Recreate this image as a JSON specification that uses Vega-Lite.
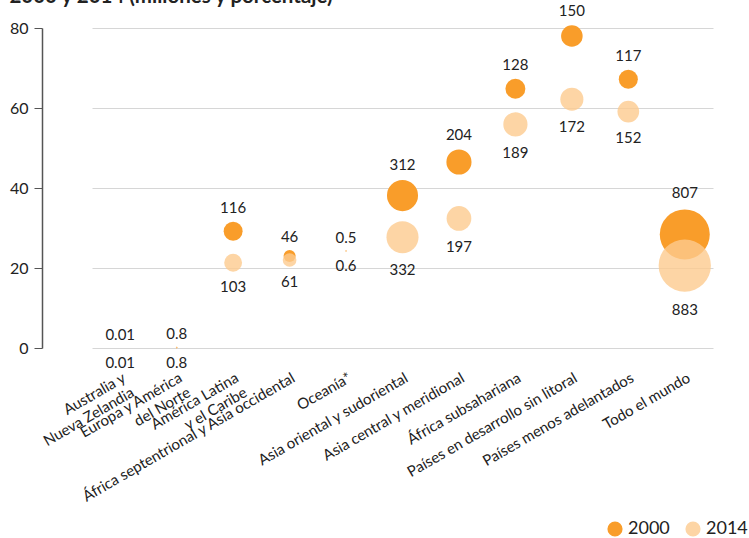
{
  "$schema": "https://vega.github.io/schema/vega-lite/v6.json",
  "width": 703,
  "height": 320,
  "autosize": {"type": "none"},
  "padding": {"left": 42, "top": 28, "right": 4, "bottom": 190},
  "background": "white",
  "config": {"view": {"stroke": null}, "font": "Lato"},
  "title": {"text": "2000 y 2014 (millones y porcentaje)", "anchor": "start", "frame": "bounds", "fontSize": 20.5, "font": "Lato", "fontWeight": "bold", "color": "#222222", "baseline": "alphabetic", "offset": 0, "dy": 19},
  "data": {"values": [
    {"region": "Australia y\nNueva Zelandia", "year": "2000", "pct": 0.0, "pop": 0.01},
    {"region": "Europa y América\ndel Norte", "year": "2000", "pct": 0.1, "pop": 0.8},
    {"region": "América Latina\ny el Caribe", "year": "2000", "pct": 29.2, "pop": 116},
    {"region": "África septentrional y Asia occidental", "year": "2000", "pct": 23.0, "pop": 46},
    {"region": "Oceanía*", "year": "2000", "pct": 24.3, "pop": 0.5},
    {"region": "Asia oriental y sudoriental", "year": "2000", "pct": 38.1, "pop": 312},
    {"region": "Asia central y meridional", "year": "2000", "pct": 46.5, "pop": 204},
    {"region": "África subsahariana", "year": "2000", "pct": 64.8, "pop": 128},
    {"region": "Países en desarrollo sin litoral", "year": "2000", "pct": 78.0, "pop": 150},
    {"region": "Países menos adelantados", "year": "2000", "pct": 67.2, "pop": 117},
    {"region": "Todo el mundo", "year": "2000", "pct": 28.4, "pop": 807},
    {"region": "Australia y\nNueva Zelandia", "year": "2014", "pct": 0.0, "pop": 0.01},
    {"region": "Europa y América\ndel Norte", "year": "2014", "pct": 0.1, "pop": 0.8},
    {"region": "América Latina\ny el Caribe", "year": "2014", "pct": 21.3, "pop": 103},
    {"region": "África septentrional y Asia occidental", "year": "2014", "pct": 22.0, "pop": 61},
    {"region": "Oceanía*", "year": "2014", "pct": 24.2, "pop": 0.6},
    {"region": "Asia oriental y sudoriental", "year": "2014", "pct": 27.7, "pop": 332},
    {"region": "Asia central y meridional", "year": "2014", "pct": 32.4, "pop": 197},
    {"region": "África subsahariana", "year": "2014", "pct": 55.9, "pop": 189},
    {"region": "Países en desarrollo sin litoral", "year": "2014", "pct": 62.2, "pop": 172},
    {"region": "Países menos adelantados", "year": "2014", "pct": 59.1, "pop": 152},
    {"region": "Todo el mundo", "year": "2014", "pct": 20.6, "pop": 883}
  ]},
  "encoding": {
    "x": {"field": "region", "type": "nominal", "sort": null,
      "scale": {"type": "point", "range": [50, 671]},
      "axis": {"title": null, "domain": false, "ticks": false, "labelAngle": -30, "labelAlign": "right", "labelBaseline": "top", "labelPadding": 22, "labelFontSize": 15, "labelFont": "Lato", "labelColor": "#222222", "labelLineHeight": 17, "labelLimit": 500, "labelOverlap": false, "labelBound": false, "labelExpr": "split(datum.label, '\\n')"}},
    "y": {"field": "pct", "type": "quantitative",
      "scale": {"domain": [0, 80], "nice": false},
      "axis": {"title": null, "values": [0, 20, 40, 60, 80], "labelFontSize": 16, "labelFont": "Lato", "labelColor": "#222222", "labelPadding": 6, "tickSize": 8, "tickColor": "#555555", "domainColor": "#555555", "domainWidth": 1.5, "gridColor": "#d6d6d6", "gridWidth": 1}}
  },
  "layer": [
    {
      "mark": {"type": "circle", "stroke": null},
      "encoding": {
        "size": {"field": "pop", "type": "quantitative", "scale": {"type": "linear", "domain": [0, 883], "range": [0, 2734], "zero": true}, "legend": null},
        "color": {"field": "year", "type": "nominal", "scale": {"domain": ["2000", "2014"], "range": ["#F99D2A", "#FCCB8E"]},
          "legend": {"title": null, "orient": "none", "legendX": 564, "legendY": 492, "direction": "horizontal", "symbolType": "circle", "symbolSize": 230, "labelFontSize": 18, "labelFont": "Lato", "labelColor": "#222222", "columnPadding": 14, "labelOffset": 4}},
        "opacity": {"field": "year", "type": "nominal", "scale": {"domain": ["2000", "2014"], "range": [1, 0.8]},
          "legend": {"title": null, "orient": "none", "legendX": 564, "legendY": 492, "direction": "horizontal", "symbolType": "circle", "symbolSize": 230, "labelFontSize": 18, "labelFont": "Lato", "labelColor": "#222222", "columnPadding": 14, "labelOffset": 4}}
      }
    },
    {
      "transform": [{"filter": "datum.year == '2000'"}],
      "mark": {"type": "text", "baseline": "middle", "align": "center", "fontSize": 15, "font": "Lato", "color": "#222222", "dy": {"expr": "-(12.5 + sqrt(datum.pop))"}},
      "encoding": {
        "text": {"field": "pop", "type": "quantitative"}
      }
    },
    {
      "transform": [{"filter": "datum.year == '2014'"}],
      "mark": {"type": "text", "baseline": "middle", "align": "center", "fontSize": 15, "font": "Lato", "color": "#222222", "dy": {"expr": "14.5 + sqrt(datum.pop)"}},
      "encoding": {
        "text": {"field": "pop", "type": "quantitative"}
      }
    }
  ]
}
